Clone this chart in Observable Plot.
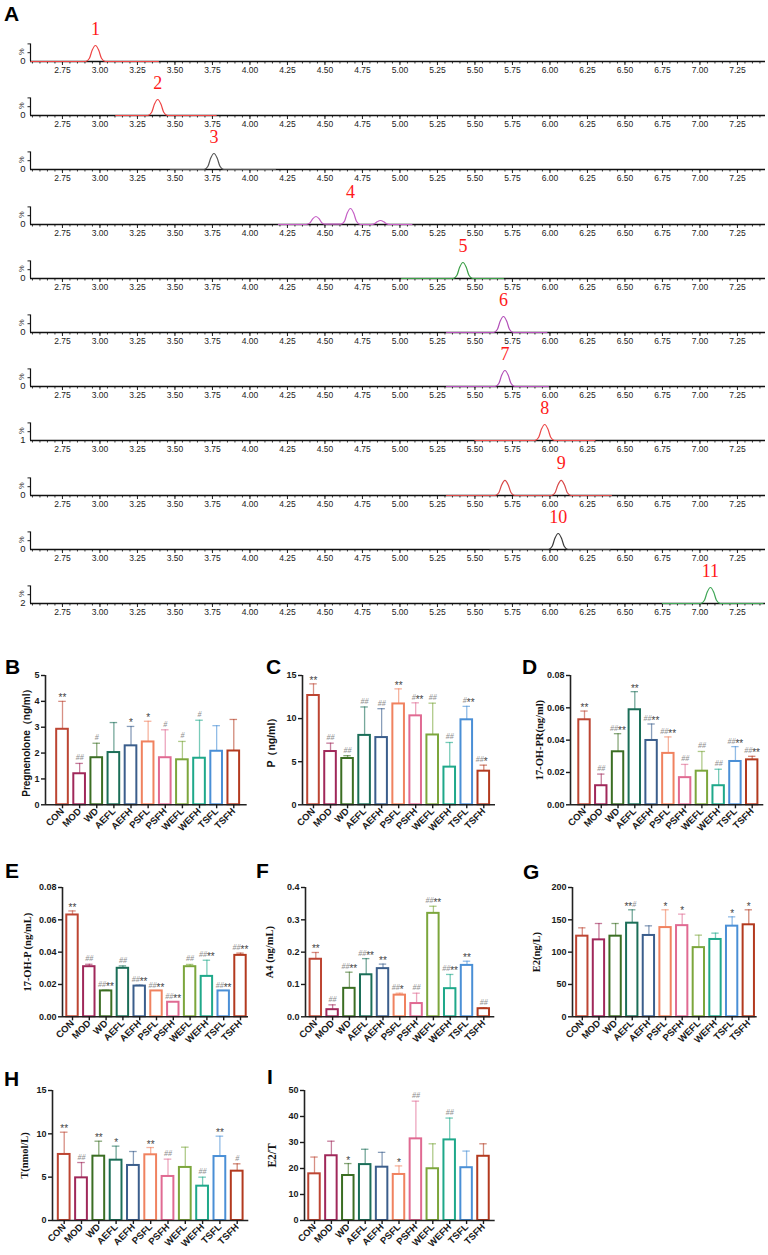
<!DOCTYPE html>
<html><head><meta charset="utf-8">
<script src="https://cdn.jsdelivr.net/npm/d3@7"></script>
<script src="https://cdn.jsdelivr.net/npm/@observablehq/plot@0.6"></script>
<style>
body{margin:0;background:#fff}
#fig{position:relative;width:768px;height:1255px;overflow:hidden;background:#fff;font-family:"Liberation Sans",Arial,sans-serif}
.lab{position:absolute;font-weight:bold;font-size:21px;line-height:21px;color:#000}
</style>
</head><body><div id="fig"></div>
<script>
// ---------- Panel A: chromatograms ----------
const chromMajor = [2.75,3.00,3.25,3.50,3.75,4.00,4.25,4.50,4.75,5.00,5.25,5.50,5.75,6.00,6.25,6.50,6.75,7.00,7.25];
const tr1 = [[2.54,0],[2.905,0],[2.93,0.2],[2.948,0.7],[2.97,1],[2.992,0.7],[3.01,0.2],[3.035,0],[3.39,0]];
const tr2 = [[3.105,0],[3.32,0],[3.345,0.2],[3.363,0.7],[3.385,1],[3.407,0.7],[3.425,0.2],[3.45,0],[3.775,0]];
const tr3 = [[3.47,0],[3.695,0],[3.72,0.2],[3.738,0.7],[3.76,1],[3.782,0.7],[3.80,0.2],[3.825,0],[4.17,0]];
const tr4 = [[4.19,0],[4.375,0],[4.40,0.1],[4.418,0.35],[4.44,0.5],[4.462,0.35],[4.48,0.1],[4.505,0.02],[4.605,0.02],[4.63,0.2],[4.648,0.7],[4.67,1],[4.692,0.7],[4.71,0.2],[4.735,0],[4.805,0],[4.83,0.05],[4.848,0.17],[4.87,0.25],[4.892,0.17],[4.91,0.05],[4.935,0],[5.08,0]];
const tr5 = [[5.01,0],[5.355,0],[5.38,0.2],[5.398,0.7],[5.42,1],[5.442,0.7],[5.46,0.2],[5.485,0],[5.69,0]];
const tr6 = [[5.31,0],[5.625,0],[5.65,0.2],[5.668,0.7],[5.69,1],[5.712,0.7],[5.73,0.2],[5.755,0],[5.98,0]];
const tr7 = [[5.31,0],[5.635,0],[5.66,0.2],[5.678,0.7],[5.70,1],[5.722,0.7],[5.74,0.2],[5.765,0],[5.99,0]];
const tr8 = [[5.50,0],[5.90,0],[5.925,0.2],[5.943,0.7],[5.965,1],[5.987,0.7],[6.005,0.2],[6.03,0],[6.30,0]];
const tr9 = [[5.31,0],[5.635,0],[5.66,0.19],[5.678,0.66],[5.70,0.95],[5.722,0.66],[5.74,0.19],[5.765,0],[6.01,0],[6.035,0.19],[6.053,0.66],[6.075,0.95],[6.097,0.66],[6.115,0.19],[6.14,0],[6.41,0]];
const tr10 = [[5.60,0],[5.99,0],[6.015,0.2],[6.033,0.7],[6.055,1],[6.077,0.7],[6.095,0.2],[6.12,0],[6.40,0]];
const tr11 = [[6.75,0],[7.005,0],[7.03,0.2],[7.048,0.7],[7.07,1],[7.092,0.7],[7.11,0.2],[7.135,0],[7.42,0]];
const traces = [tr1,tr2,tr3,tr4,tr5,tr6,tr7,tr8,tr9,tr10,tr11];
const traceColors = ["#ee4444","#ee4444","#555555","#c55ec5","#3a9e45","#b24fb8","#b24fb8","#ec4a4a","#d84848","#3a3a3a","#3fa656"];
const peakLabelTimes = [2.97,3.385,3.76,4.67,5.42,5.69,5.70,5.965,6.075,6.055,7.07];
const yZeroLabels = ["0","0","0","0","0","0","0","1","0","0","2"];

// ---------- Panels B–I: bar charts ----------
const groups = ["CON","MOD","WD","AEFL","AEFH","PSFL","PSFH","WEFL","WEFH","TSFL","TSFH"];
const groupColors = ["#bd4532","#a0285a","#3b6e23","#1b6e58","#3b5e8c","#f0825f","#e06a92","#7ca63c","#1fa88a","#4a8fd6","#b33a1f"];

const pregMean = [2.92,1.2,1.82,2.02,2.28,2.43,1.82,1.74,1.8,2.07,2.08];
const pregErr  = [4.0,1.6,2.38,3.18,3.03,3.23,2.9,2.45,3.27,3.06,3.3];
const pregSig  = ["**","##","#","","*","*","#","#","#","",""];

const pMean = [12.68,6.18,5.37,8.05,7.8,11.7,10.32,8.1,4.37,9.86,3.9];
const pErr  = [14.03,7.15,5.7,11.35,11.15,13.45,11.83,11.79,7.23,11.42,4.6];
const pSig  = ["**","##","##","##","##","**","#**","##","##","#**","##*"];

const ohprMean = [0.0526,0.0118,0.0328,0.0588,0.0398,0.0318,0.0168,0.0208,0.0118,0.0268,0.0278];
const ohprErr  = [0.058,0.019,0.044,0.070,0.050,0.042,0.025,0.033,0.022,0.036,0.030];
const ohprSig  = ["**","##","##**","**","##**","##**","##","##","##","##**","##**"];

const ohpMean = [0.063,0.031,0.016,0.030,0.019,0.016,0.009,0.031,0.025,0.016,0.038];
const ohpErr  = [0.0655,0.0325,0.0165,0.0315,0.0196,0.0162,0.0092,0.0324,0.035,0.0162,0.0394];
const ohpSig  = ["**","##","##**","##","##**","##**","##**","##","##**","##**","##**"];

const a4Mean = [0.178,0.022,0.088,0.13,0.149,0.067,0.041,0.32,0.087,0.159,0.025];
const a4Err  = [0.199,0.037,0.138,0.18,0.163,0.073,0.073,0.342,0.131,0.172,0.028];
const a4Sig  = ["**","##","##**","##**","**","##*","##","##**","##**","**","##"];

const e2Mean = [124.7,119,124.7,144.8,125.8,138,141,107,119.6,140.2,142.3];
const e2Err  = [137.6,144.3,144.3,165.5,140.7,165.5,158.8,126.3,129.4,154.6,165.5];
const e2Sig  = ["","","","**#","","*","*","","","*","*"];

const tMean = [7.62,4.92,7.42,6.96,6.35,7.58,5.08,6.12,3.96,7.38,5.69];
const tErr  = [10.19,6.69,9.15,8.58,7.96,8.42,7.08,8.46,5.0,9.73,6.54];
const tSig  = ["**","##","**","*","","**","##","","##","**","#"];

const ratioMean = [17.95,24.9,17.3,21.5,20.5,17.7,31.4,19.9,31.0,20.3,24.7];
const ratioErr  = [24.4,30.5,21.9,27.4,26.2,21.0,45.9,29.5,39.4,26.7,29.5];
const ratioSig  = ["","","*","","","*","##","","##","",""];

const fig = document.getElementById("fig");
function place(el, left, top){
  el.style.position = "absolute";
  el.style.left = left + "px";
  el.style.top = top + "px";
  fig.appendChild(el);
}

// ----- chromatogram rows -----
const chromX = [2.537, 7.437];
const minorTicks = d3.range(2.55, 7.44, 0.05);
const rowBase0 = 61, rowStep = 54.2;
traces.forEach((tr, k) => {
  const H = 56, mB = 16, mT = 24;
  const svg = Plot.plot({
    width: 768, height: H,
    marginLeft: 30, marginRight: 3, marginTop: mT, marginBottom: mB,
    x: {domain: chromX, label: null},
    y: {domain: [0, 1], label: null, axis: null},
    style: {background: "transparent", overflow: "visible", fontFamily: "Liberation Sans, Arial, sans-serif", fontSize: "8.5px", color: "#222"},
    marks: [
      Plot.axisX({ticks: minorTicks, tickSize: 2.5, tickFormat: () => "", label: null, strokeWidth: 0.9}),
      Plot.axisX({ticks: chromMajor, tickSize: 4, tickPadding: 1.5, tickFormat: d3.format(".2f"), label: null, fontSize: 8.5, strokeWidth: 1}),
      Plot.ruleY([0], {stroke: "#111", strokeWidth: 1.6}),
      Plot.ruleX([chromX[0]], {y1: 0, y2: 1.1, stroke: "#111", strokeWidth: 1.2}),
      Plot.axisY({ticks: [0.55, 1.1], tickSize: 2.5, tickFormat: () => "", label: null, strokeWidth: 1}),
      Plot.text(["%"], {text: d => d, x: chromX[0], y: 0.62, dx: -9, rotate: -90, fontSize: 7.5, fill: "#333"}),
      Plot.text([yZeroLabels[k]], {text: d => d, x: chromX[0], y: 0, dx: -5, dy: -1, textAnchor: "end", fontSize: 9.5, fill: "#222"}),
      Plot.line(tr, {x: d => d[0], y: d => d[1], stroke: traceColors[k], strokeWidth: 1.2, curve: "monotone-x"}),
      Plot.text([String(k + 1)], {text: d => d, x: peakLabelTimes[k], y: 1, dy: -11, lineAnchor: "bottom", fill: "#ff1a1a", fontFamily: "Liberation Serif, Times New Roman, serif", fontSize: 18})
    ]
  });
  place(svg, 0, rowBase0 + k * rowStep - (H - mB));
});

// ----- bar panels (layout only: axis / first & last bar centres / label position) -----
const panels = [
  {mean: pregMean, err: pregErr, sig: pregSig, label: "Pregnenolone（ng/ml）", serif: false, labelSize: 10, yMax: 5, ticks: [0,1,2,3,4,5], fmt: "d",
   axisX: 45, conX: 62, tsfhX: 233.3, xEnd: 246.7, yTop: 675, yZero: 804.3, labelX: 26},
  {mean: pMean, err: pErr, sig: pSig, label: "P（ng/ml）", serif: false, labelSize: 10.5, yMax: 15, ticks: [0,5,10,15], fmt: "d",
   axisX: 302, conX: 313, tsfhX: 483.3, xEnd: 495, yTop: 675, yZero: 804.3, labelX: 271},
  {mean: ohprMean, err: ohprErr, sig: ohprSig, label: "17-OH-PR(ng/ml)", serif: true, labelSize: 10.5, yMax: 0.08, ticks: [0,0.02,0.04,0.06,0.08], fmt: ".2f",
   axisX: 570, conX: 584, tsfhX: 751.7, xEnd: 763.3, yTop: 675, yZero: 804.3, labelX: 539},
  {mean: ohpMean, err: ohpErr, sig: ohpSig, label: "17-OH-P (ng/mL)", serif: true, labelSize: 10.5, yMax: 0.08, ticks: [0,0.02,0.04,0.06,0.08], fmt: ".2f",
   axisX: 62, conX: 72, tsfhX: 240, xEnd: 248, yTop: 886.7, yZero: 1016, labelX: 27},
  {mean: a4Mean, err: a4Err, sig: a4Sig, label: "A4 (ng/mL)", serif: true, labelSize: 10.5, yMax: 0.4, ticks: [0,0.1,0.2,0.3,0.4], fmt: ".1f",
   axisX: 305, conX: 315.3, tsfhX: 483.3, xEnd: 494.3, yTop: 886.7, yZero: 1016, labelX: 269},
  {mean: e2Mean, err: e2Err, sig: e2Sig, label: "E2(ng/L)", serif: true, labelSize: 10.5, yMax: 200, ticks: [0,50,100,150,200], fmt: "d",
   axisX: 572, conX: 581.8, tsfhX: 748.3, xEnd: 756.7, yTop: 886.7, yZero: 1016, labelX: 536},
  {mean: tMean, err: tErr, sig: tSig, label: "T(nmol/L)", serif: true, labelSize: 10.5, yMax: 15, ticks: [0,5,10,15], fmt: "d",
   axisX: 52, conX: 63.7, tsfhX: 236.7, xEnd: 248.3, yTop: 1090, yZero: 1220, labelX: 24},
  {mean: ratioMean, err: ratioErr, sig: ratioSig, label: "E2/T", serif: true, labelSize: 11.5, yMax: 50, ticks: [0,10,20,30,40,50], fmt: "d",
   axisX: 304.3, conX: 314.3, tsfhX: 483.3, xEnd: 495, yTop: 1090, yZero: 1220, labelX: 272}
];

panels.forEach(cfg => {
  const mL = 48, mR = 4, mT = 12, mB = 48;
  const step = (cfg.tsfhX - cfg.conX) / (groups.length - 1);
  const xDom = [(cfg.axisX - cfg.conX) / step, (cfg.xEnd - cfg.conX) / step];
  const rows = groups.map((g, i) => ({g, i, mean: cfg.mean[i], err: cfg.err[i], sig: cfg.sig[i], color: groupColors[i]}));
  const entries = [];
  rows.forEach(r => {
    const parts = r.sig.match(/#+|\*+/g) || [];
    parts.forEach((p, j) => entries.push({i: r.i, err: r.err, text: p, kind: p[0],
      anchor: parts.length === 1 ? "middle" : (j === 0 ? "end" : "start")}));
  });
  const sigMarks = [];
  ["#", "*"].forEach(kind => ["middle", "end", "start"].forEach(anchor => {
    sigMarks.push(Plot.text(entries.filter(e => e.kind === kind && e.anchor === anchor), {
      x: "i", y: "err", text: "text", textAnchor: anchor, dy: kind === "#" ? -3 : 0, lineAnchor: "bottom",
      fill: kind === "#" ? "#8e8e8e" : "#444", fontSize: kind === "#" ? 8 : 10,
      fontStyle: kind === "#" ? "italic" : "normal", fontWeight: "normal",
      fontFamily: kind === "#" ? "Liberation Serif, serif" : "Liberation Sans, Arial, sans-serif"
    }));
  }));
  const svg = Plot.plot({
    width: (cfg.xEnd - cfg.axisX) + mL + mR,
    height: (cfg.yZero - cfg.yTop) + mT + mB,
    marginLeft: mL, marginRight: mR, marginTop: mT, marginBottom: mB,
    x: {type: "linear", domain: xDom, label: null},
    y: {domain: [0, cfg.yMax], label: null},
    color: {type: "identity"},
    style: {background: "transparent", overflow: "visible", fontFamily: "Liberation Sans, Arial, sans-serif", fontWeight: "bold", fontSize: "9px", color: "#1a1a1a"},
    marks: [
      Plot.ruleX(rows, {x: "i", y1: "mean", y2: "err", stroke: "color", strokeOpacity: 0.6, strokeWidth: 1.3}),
      Plot.ruleY(rows, {y: "err", x1: d => d.i - 0.22, x2: d => d.i + 0.22, stroke: "color", strokeOpacity: 0.6, strokeWidth: 1.3}),
      Plot.rect(rows, {x1: d => d.i - 0.34, x2: d => d.i + 0.34, y1: 0, y2: "mean", fill: "white", stroke: "color", strokeWidth: 2}),
      Plot.ruleY([0], {stroke: "#222", strokeWidth: 1.6}),
      Plot.ruleX([xDom[0]], {stroke: "#222", strokeWidth: 1.6}),
      Plot.axisY({ticks: cfg.ticks, tickFormat: d3.format(cfg.fmt), tickSize: 4, tickPadding: 2, label: null, fontSize: 9, strokeWidth: 1.4}),
      Plot.axisX({ticks: groups.map((g, i) => i), tickFormat: i => groups[i], tickRotate: -45, tickSize: 4, tickPadding: 1, label: null, fontSize: 9.5, strokeWidth: 1.4}),
      Plot.text([cfg.label], {text: d => d, frameAnchor: "left", dx: cfg.labelX - cfg.axisX, rotate: -90, textAnchor: "middle",
        fontFamily: cfg.serif ? "Liberation Serif, Times New Roman, serif" : "Liberation Sans, Arial, sans-serif",
        fontSize: cfg.labelSize, fontWeight: "bold", fill: "#111"}),
      ...sigMarks
    ]
  });
  place(svg, cfg.axisX - mL, cfg.yTop - mT);
});

// ----- panel letters -----
const panelLetters = [["A",4,3],["B",5,656],["C",266,656],["D",522,656],["E",5,860],["F",256,860],["G",523,861],["H",4,1068],["I",267,1066]];
panelLetters.forEach(([t, x, y]) => {
  const d = document.createElement("div");
  d.className = "lab";
  d.textContent = t;
  place(d, x, y);
});
</script>
</body></html>
